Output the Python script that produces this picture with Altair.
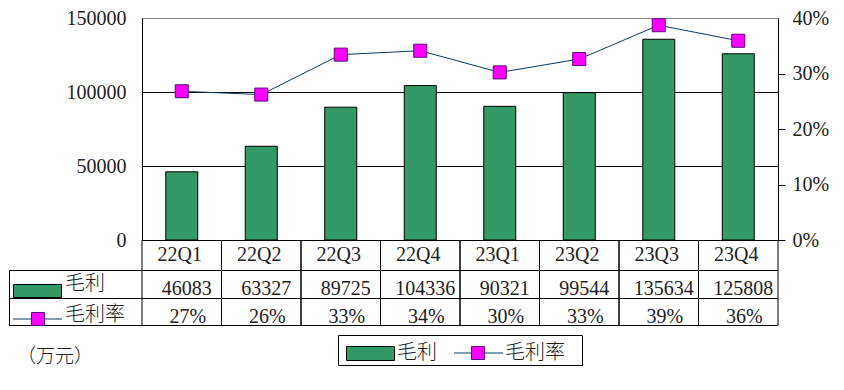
import altair as alt
import pandas as pd

# ---- data ----
quarters = ["22Q1", "22Q2", "22Q3", "22Q4", "23Q1", "23Q2", "23Q3", "23Q4"]
gross_profit = [46083, 63327, 89725, 104336, 90321, 99544, 135634, 125808]
gross_margin = [0.268, 0.262, 0.334, 0.341, 0.302, 0.326, 0.387, 0.359]
series_names = ["毛利", "毛利率"]
unit_label = "（万元）"
left_ticks = [0, 50000, 100000, 150000]
right_ticks = [0, 0.1, 0.2, 0.3, 0.4]

# ---- styles / layout ----
TOP = 18            # page y of plot top
W, H = 636, 222     # plot area
SERIF = "Liberation Serif"
CJK = "Noto Sans CJK SC"
TXT = "#222222"
BAR = "#339966"
LINE = "#0B3B60"
MAG = "#FF00FF"
MAGSTROKE = "#5A0A7A"


def py(page_y):
    """page y -> view y"""
    return page_y - TOP


def px(page_x):
    """page x -> view x"""
    return page_x - 142


df = pd.DataFrame({"q": quarters, "gp": gross_profit, "gm": gross_margin})
base = alt.Chart(df)
one = alt.Chart(alt.Data(values=[{}]))

xscale = alt.Scale(paddingInner=0, paddingOuter=0)
xenc = alt.X("q:N", sort=quarters, scale=xscale, axis=None)

bars = base.mark_bar(size=32, color=BAR, stroke="black", strokeWidth=1).encode(
    x=xenc,
    y=alt.Y("gp:Q", scale=alt.Scale(domain=[0, 150000]),
            axis=alt.Axis(orient="left", values=left_ticks, title=None, ticks=False,
                          labelPadding=16, labelFont=SERIF, labelFontSize=20,
                          labelColor=TXT, domainColor="black", format="d",
                          labelFlush=False, labelOverlap=False, grid=True,
                          gridColor={"condition": {"test": "datum.value === 150000",
                                                   "value": "#8a8a8a"},
                                     "value": "black"},
                          gridOpacity=1)),
)

yr = alt.Scale(domain=[0, 0.4])
raxis = alt.Axis(orient="right", values=right_ticks, format=".0%", title=None,
                 tickSize=7, labelPadding=7,
                 tickColor={"condition": {"test": "datum.value >= 0.399",
                                          "value": "transparent"},
                            "value": "black"},
                 labelFont=SERIF, labelFontSize=20, labelColor=TXT,
                 domainColor="black", grid=False, labelFlush=False,
                 labelOverlap=False)
line = base.mark_line(color=LINE, strokeWidth=1).encode(
    x=xenc, y=alt.Y("gm:Q", scale=yr, axis=raxis))
pts = base.mark_square(size=170, color=MAG, stroke=MAGSTROKE, strokeWidth=1, opacity=1).encode(
    x=xenc, y=alt.Y("gm:Q", scale=yr, axis=raxis))
line_layer = alt.layer(line, pts)

# ---- data table under the plot ----
hdr = base.mark_text(font=SERIF, fontSize=20, color=TXT, baseline="middle", dx=-2).encode(
    x=xenc, y=alt.value(py(255)), text="q:N")
gp_txt = base.mark_text(font=SERIF, fontSize=20, color=TXT, baseline="middle", dx=5).encode(
    x=xenc, y=alt.value(py(289)), text=alt.Text("gp:Q", format="d"))
gm_txt = base.mark_text(font=SERIF, fontSize=20, color=TXT, baseline="middle", dx=6).encode(
    x=xenc, y=alt.value(py(317)), text=alt.Text("gm:Q", format=".0%"))

sep0 = base.mark_rule(color="black", strokeWidth=1).encode(
    x=alt.X("q:N", sort=quarters, scale=xscale, axis=None, bandPosition=0),
    y=alt.value(H), y2=alt.value(py(325.5)))
sep1 = base.mark_rule(color="black", strokeWidth=1).encode(
    x=alt.X("q:N", sort=quarters, scale=xscale, axis=None, bandPosition=1),
    y=alt.value(H), y2=alt.value(py(325.5)))


def hrule(y, x0=px(9.5), x1=W):
    return one.mark_rule(color="black", strokeWidth=1).encode(
        x=alt.value(x0), x2=alt.value(x1), y=alt.value(y))


table_lines = [hrule(py(270.5)), hrule(py(298.5)), hrule(py(325.5)),
               one.mark_rule(color="black", strokeWidth=1).encode(
                   x=alt.value(px(9.5)), y=alt.value(py(270.5)), y2=alt.value(py(325.5)))]


def label(txt, x, y, size=20, font=CJK):
    return one.mark_text(font=font, fontSize=size, color=TXT, align="left",
                         baseline="middle", fontWeight=300).encode(
        x=alt.value(x), y=alt.value(y), text=alt.value(txt))


def bar_sym(x0, x1, y0, y1):
    return one.mark_rect(color=BAR, stroke="black", strokeWidth=1).encode(
        x=alt.value(x0), x2=alt.value(x1), y=alt.value(y0), y2=alt.value(y1))


def line_sym(x0, x1, y, xc):
    return [one.mark_rule(color=LINE, strokeWidth=1).encode(
                x=alt.value(x0), x2=alt.value(x1), y=alt.value(y)),
            one.mark_square(size=170, color=MAG, stroke=MAGSTROKE, strokeWidth=1,
                            opacity=1).encode(x=alt.value(xc), y=alt.value(y))]


row_labels = [bar_sym(px(13.5), px(61.5), py(284.5), py(297.5)),
              label(series_names[0], px(65), py(284))] \
    + line_sym(px(13), px(62), py(319), px(38)) \
    + [label(series_names[1], px(65), py(315))]

legend = [one.mark_rect(fill="white", stroke="black", strokeWidth=1).encode(
              x=alt.value(px(338.5)), x2=alt.value(px(582.5)),
              y=alt.value(py(335.5)), y2=alt.value(py(365.5))),
          bar_sym(px(346.5), px(394.5), py(346.5), py(360.5)),
          label(series_names[0], px(397), py(353))] \
    + line_sym(px(454), px(503), py(353), px(478)) \
    + [label(series_names[1], px(505), py(353))]

unit = [label(unit_label, px(17), py(356.5), size=19)]

chart = alt.layer(
    bars, line_layer, hdr, gp_txt, gm_txt, sep0, sep1, *table_lines, *row_labels,
    *legend, *unit
).resolve_scale(y="independent").properties(
    width=W, height=H,
    autosize=alt.AutoSizeParams(type="none"),
    padding={"left": 134, "top": TOP - 8, "right": 56, "bottom": 140},
    background="white",
).configure_view(stroke="#8a8a8a", strokeWidth=1)

chart.save("out.html", embed_options={"renderer": "svg", "actions": False})
